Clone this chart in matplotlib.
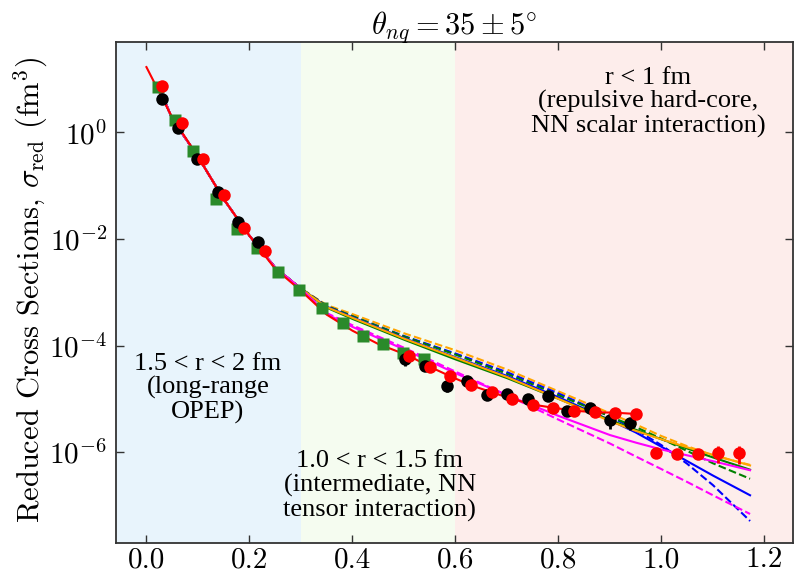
import matplotlib
matplotlib.use("Agg")
import matplotlib.pyplot as plt
import numpy as np

plt.rcParams['font.family'] = 'serif'
plt.rcParams['font.serif'] = ['cmr10']
plt.rcParams['mathtext.fontset'] = 'cm'
plt.rcParams['axes.formatter.use_mathtext'] = True
plt.rcParams['axes.unicode_minus'] = False

# measured reduced cross sections (fm^3) vs missing momentum (GeV/c)
black_x = [0.031, 0.062, 0.098, 0.138, 0.177, 0.217, 0.503, 0.541, 0.583, 0.622,
           0.661, 0.701, 0.740, 0.780, 0.817, 0.861, 0.900, 0.938]
black_y = [4.3, 1.23, 0.31, 7.74e-2, 2.04e-2, 8.8e-3, 5.6e-5, 4.1e-5, 1.77e-5, 2.17e-5,
           1.19e-5, 1.24e-5, 1.0e-5, 1.14e-5, 5.8e-6, 6.8e-6, 4.0e-6, 3.5e-6]
black_err = [0, 0, 0, 0, 0, 0, 1.4e-5, 0, 4.4e-6, 0,
             0, 0, 0, 0, 0, 1.5e-6, 1.3e-6, 0.9e-6]

red_x = [0.03, 0.07, 0.11, 0.15, 0.19, 0.23, 0.51, 0.55, 0.59, 0.63, 0.67, 0.71,
         0.75, 0.79, 0.83, 0.87, 0.91, 0.95, 0.99, 1.03, 1.07, 1.11, 1.15]
red_y = [7.4, 1.49, 0.31, 6.6e-2, 1.63e-2, 5.9e-3, 6.4e-5, 4.0e-5, 2.65e-5, 1.8e-5,
         1.33e-5, 1.0e-5, 7.8e-6, 6.8e-6, 6.0e-6, 5.6e-6, 5.5e-6, 5.2e-6,
         9.6e-7, 9.4e-7, 9.4e-7, 9.6e-7, 9.6e-7]
red_err = [0, 0, 0, 0, 0, 0, 0, 0, 0, 0, 0, 0,
           0, 0, 0, 0, 0, 0, 0, 0, 0, 3.4e-7, 3.5e-7]

green_x = [0.023, 0.055, 0.090, 0.135, 0.175, 0.214, 0.256, 0.296, 0.341, 0.381,
           0.420, 0.460, 0.499, 0.539]
green_y = [7.1, 1.70, 0.44, 5.6e-2, 1.56e-2, 6.7e-3, 2.36e-3, 1.11e-3, 5.1e-4, 2.67e-4,
           1.5e-4, 1.07e-4, 7.4e-5, 5.5e-5]

# red curve through the high-momentum points
red_line_x = [0.0, 0.05, 0.1, 0.15, 0.2, 0.25, 0.3, 0.35, 0.4, 0.45,
              0.51, 0.55, 0.59, 0.63, 0.67, 0.71, 0.75, 0.79, 0.83, 0.87, 0.91, 0.95]
red_line_y = [16.8, 1.9, 0.35, 5.6e-2, 1.15e-2, 2.75e-3, 1.07e-3, 3.8e-4, 1.9e-4, 1.07e-4,
              6.4e-5, 4.0e-5, 2.65e-5, 1.8e-5, 1.33e-5, 1.0e-5, 7.8e-6, 6.8e-6,
              6.0e-6, 5.6e-6, 5.5e-6, 5.2e-6]

# model calculations
model_x = [0.03, 0.05, 0.1, 0.15, 0.2, 0.25, 0.3, 0.35, 0.4, 0.5, 0.6, 0.7,
           0.8, 0.9, 0.95, 1.0, 1.05, 1.1, 1.172]
low_p = [5.2, 1.8, 0.35, 5.6e-2, 1.15e-2, 2.9e-3, 1.17e-3]
orange_dash = low_p + [5.75e-4, 3.89e-4, 1.70e-4, 8.13e-5, 3.55e-5, 1.38e-5, 5.37e-6,
                       3.31e-6, 2.0e-6, 1.29e-6, 8.7e-7, 5.75e-7]
blue_dash = low_p + [5.5e-4, 3.55e-4, 1.51e-4, 7.08e-5, 3.16e-5, 1.26e-5, 4.68e-6,
                     2.63e-6, 1.35e-6, 6.03e-7, 2.4e-7, 5.1e-8]
green_dash = low_p + [5.5e-4, 3.55e-4, 1.48e-4, 6.76e-5, 2.95e-5, 1.17e-5, 4.68e-6,
                      2.95e-6, 1.78e-6, 1.05e-6, 6.17e-7, 3.16e-7]
orange_solid = low_p + [5.25e-4, 3.31e-4, 1.35e-4, 5.89e-5, 2.57e-5, 1.0e-5, 3.8e-6,
                        2.51e-6, 1.74e-6, 1.23e-6, 8.9e-7, 5.62e-7]
green_solid = low_p + [5.13e-4, 3.16e-4, 1.29e-4, 5.5e-5, 2.45e-5, 1.0e-5, 3.98e-6,
                       2.63e-6, 1.74e-6, 1.17e-6, 7.94e-7, 4.68e-7]
blue_solid = low_p + [5.37e-4, 3.39e-4, 1.38e-4, 6.03e-5, 2.69e-5, 1.07e-5, 3.98e-6,
                      2.34e-6, 1.26e-6, 6.76e-7, 3.63e-7, 1.55e-7]
magenta_solid = low_p + [3.89e-4, 2.24e-4, 8.51e-5, 3.02e-5, 1.17e-5, 4.79e-6, 2.09e-6,
                         1.51e-6, 1.12e-6, 8.7e-7, 6.76e-7, 4.57e-7]
magenta_dash = low_p + [4.07e-4, 2.4e-4, 9.12e-5, 3.24e-5, 1.17e-5, 4.07e-6, 1.45e-6,
                        8.3e-7, 4.79e-7, 2.75e-7, 1.55e-7, 6.9e-8]

fig = plt.figure(figsize=(7.94, 5.81), dpi=100)
ax = fig.add_axes([0.1455, 0.066, 0.853, 0.862])

ax.axvspan(-0.1, 0.3, color='#e8f4fc', zorder=0, lw=0)
ax.axvspan(0.3, 0.6, color='#f5fcf0', zorder=0, lw=0)
ax.axvspan(0.6, 1.4, color='#fdedeb', zorder=0, lw=0)

lw = 1.5
ax.plot(model_x, orange_dash, '--', color='orange', lw=lw)
ax.plot(model_x, blue_dash, '--', color='blue', lw=lw)
ax.plot(model_x, green_dash, '--', color='green', lw=lw)
ax.plot(model_x, magenta_dash, '--', color='magenta', lw=lw)
ax.plot(model_x, blue_solid, '-', color='blue', lw=lw)
ax.plot(model_x, green_solid, '-', color='green', lw=lw)
ax.plot(model_x, orange_solid, '-', color='orange', lw=lw)
ax.plot(model_x, magenta_solid, '-', color='magenta', lw=lw)
ax.plot(red_line_x, red_line_y, '-', color='red', lw=lw)

ax.plot(green_x, green_y, 's', color='#2a8a2a', ms=9, mec='none', zorder=4)
ax.errorbar(black_x, black_y, yerr=black_err, fmt='o', color='black', ms=9,
            mec='none', elinewidth=2, capsize=0, zorder=5)
ax.errorbar(red_x, red_y, yerr=red_err, fmt='o', color='red', ms=9,
            mec='none', elinewidth=2, capsize=0, zorder=6)

ax.set_yscale('log')
ax.set_xlim(-0.06, 1.255)
ax.set_ylim(2e-8, 50)
ax.set_yticks([1e0, 1e-2, 1e-4, 1e-6])
ax.yaxis.set_minor_locator(matplotlib.ticker.NullLocator())
ax.set_xticks([0.0, 0.2, 0.4, 0.6, 0.8, 1.0, 1.2])
ax.xaxis.set_major_formatter(matplotlib.ticker.FormatStrFormatter('%.1f'))
ax.tick_params(direction='in', top=True, right=True, length=6, width=1,
               labelsize=21, pad=3, color='#333333')
ax.tick_params(axis='y', pad=6)
for s in ax.spines.values():
    s.set_color('#333333')
    s.set_linewidth(1.3)

ax.set_title(r'$\theta_{nq} = 35 \pm 5^{\circ}$', fontsize=22, pad=6)
ax.set_ylabel(r'Reduced Cross Sections, $\sigma_{\rm red}$ (fm$^3$)', fontsize=22)
ax.yaxis.set_label_coords(-0.097, 0.505)

note = dict(family='Liberation Serif', fontsize=19, ha='center', va='center',
            linespacing=1.1, transform=ax.transAxes)
ax.text(0.786, 0.879, 'r < 1 fm\n(repulsive hard-core,\nNN scalar interaction)', **note)
ax.text(0.1365, 0.308, '1.5 < r < 2 fm\n(long-range\nOPEP)', **note)
ax.text(0.390, 0.113, '1.0 < r < 1.5 fm\n(intermediate, NN\ntensor interaction)', **note)

fig.savefig('out.png', dpi=100)
